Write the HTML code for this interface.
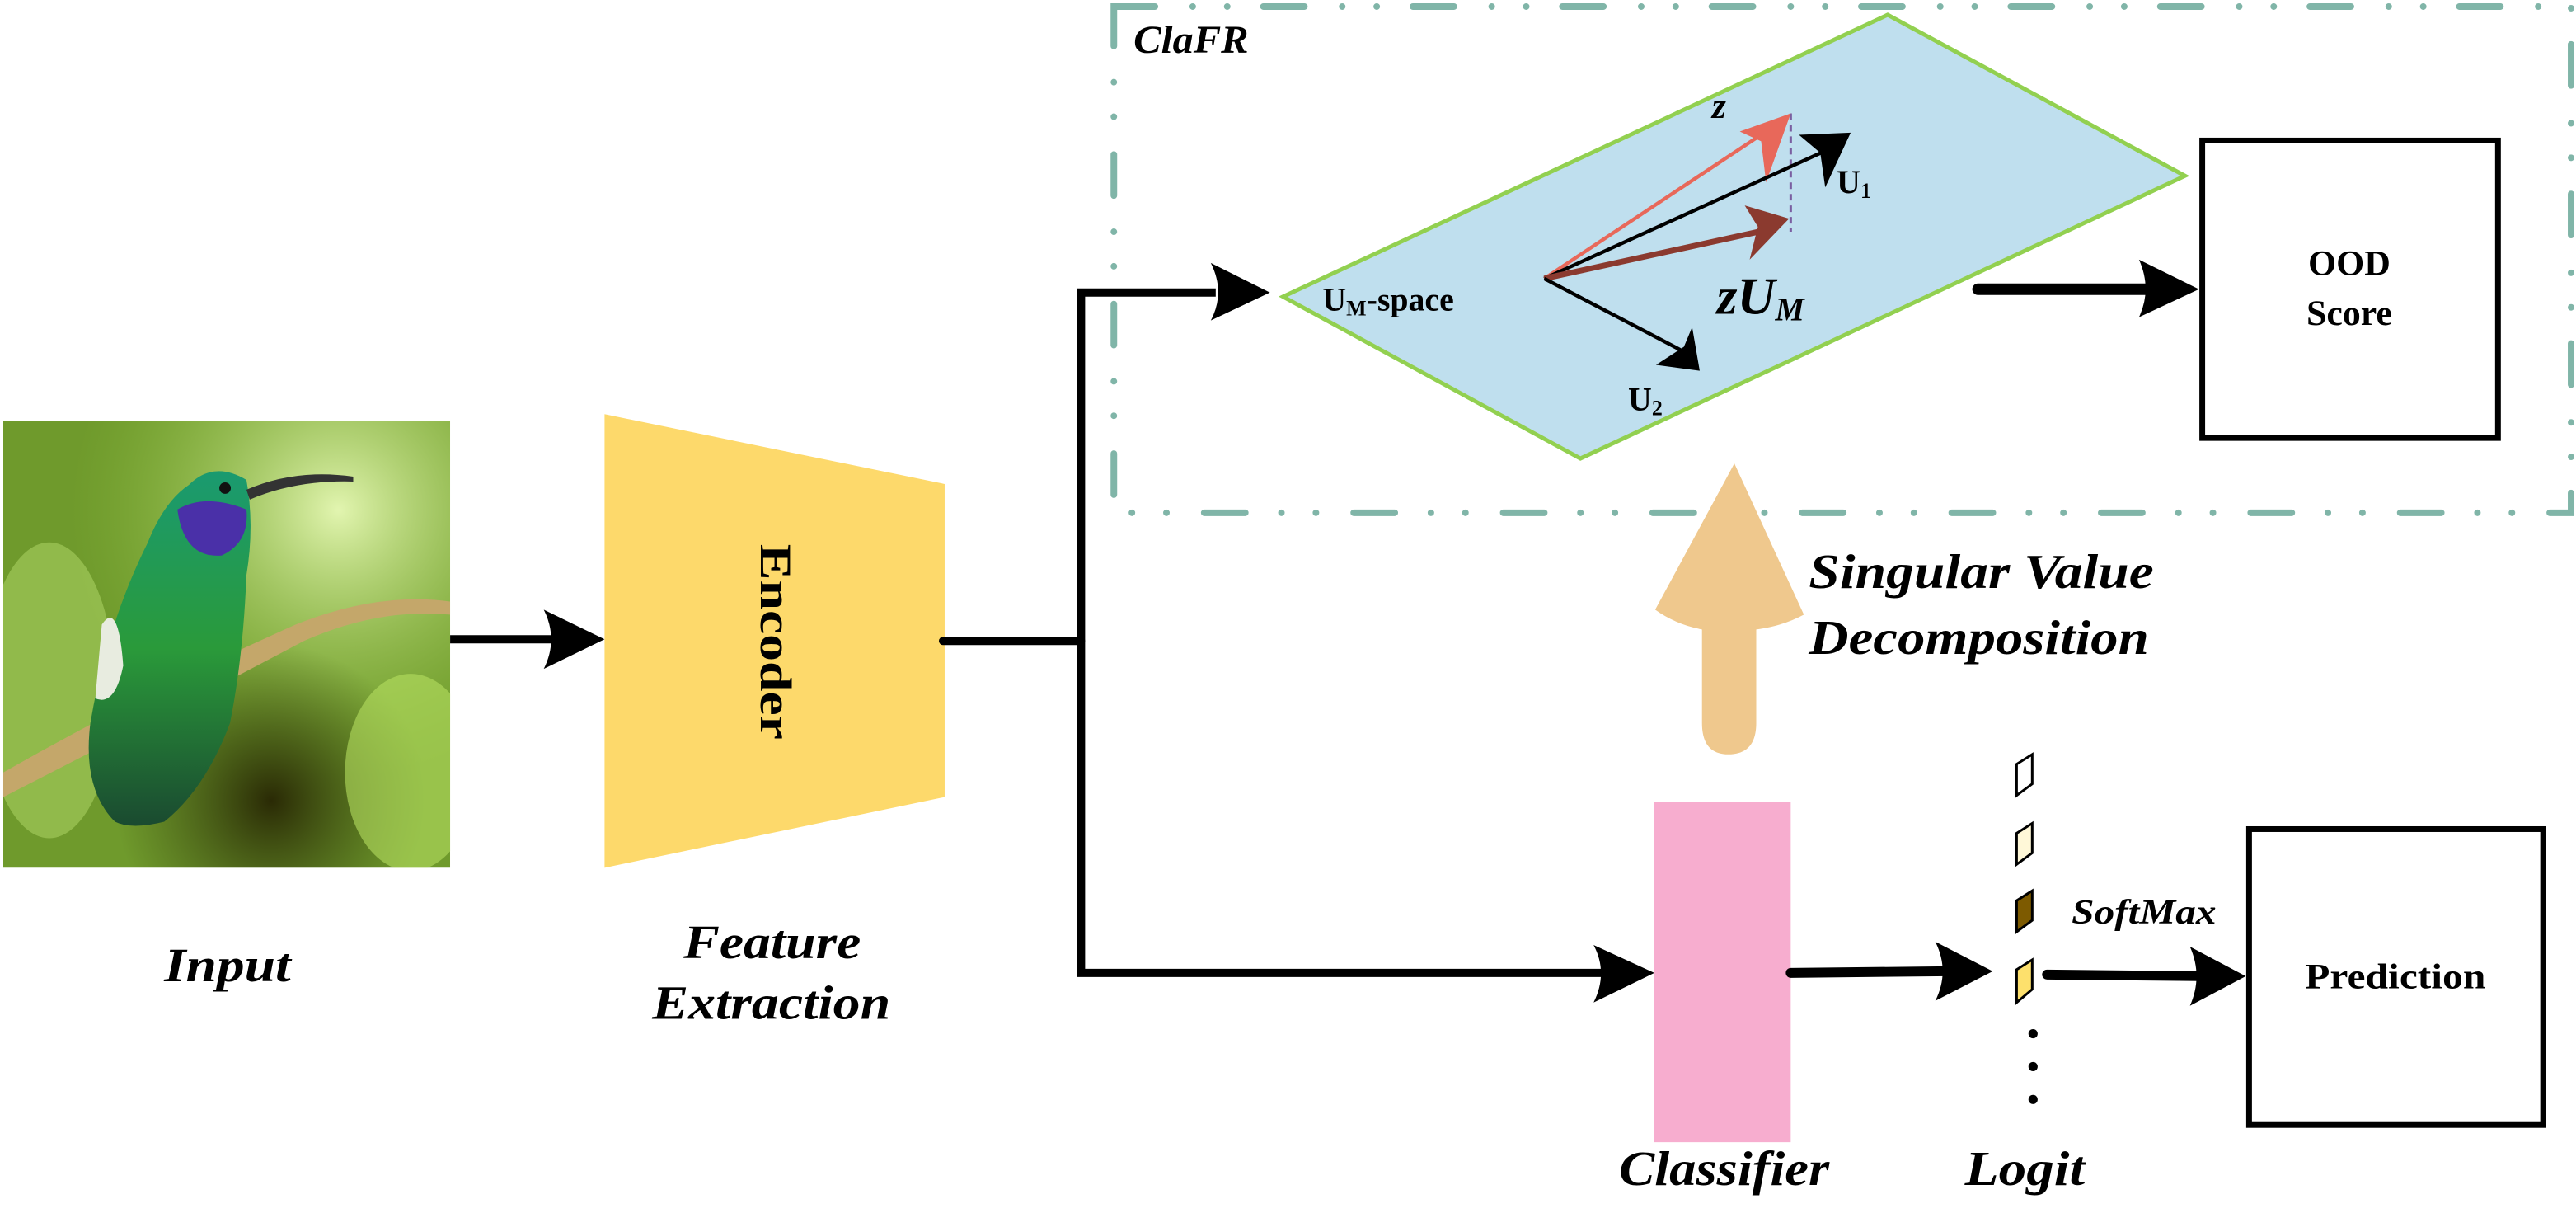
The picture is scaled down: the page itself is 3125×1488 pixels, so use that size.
<!DOCTYPE html>
<html><head><meta charset="utf-8"><style>
html,body{margin:0;padding:0;background:#fff;}
svg{display:block;}
svg text{font-family:"Liberation Serif","Times New Roman",Times,serif;font-weight:bold;}
.i{font-style:italic;}
</style></head><body>
<svg width="3125" height="1488" viewBox="0 0 1568 746.6" xmlns="http://www.w3.org/2000/svg" font-family="Liberation Serif, Times New Roman, serif">
<defs>
<radialGradient id="bg1" cx="0.75" cy="0.2" r="0.6"><stop offset="0" stop-color="#e2f5b0"/><stop offset="1" stop-color="#8cbf3a" stop-opacity="0"/></radialGradient>
<radialGradient id="bg2" cx="0.6" cy="0.85" r="0.35"><stop offset="0" stop-color="#2a2a05"/><stop offset="1" stop-color="#3a4a10" stop-opacity="0"/></radialGradient>
<linearGradient id="bird" x1="0" y1="0" x2="0" y2="1"><stop offset="0" stop-color="#1a9a70"/><stop offset="0.5" stop-color="#2a9a3a"/><stop offset="1" stop-color="#1a4a30"/></linearGradient>
<clipPath id="pc"><rect x="2" y="256" width="272" height="272"/></clipPath>
</defs>
<g clip-path="url(#pc)">
<rect x="2" y="256" width="272" height="272" fill="#6f9a2c"/>
<rect x="2" y="256" width="272" height="272" fill="url(#bg1)"/>
<rect x="2" y="256" width="272" height="272" fill="url(#bg2)"/>
<ellipse cx="30" cy="420" rx="40" ry="90" fill="#a9d060" opacity="0.6"/>
<ellipse cx="250" cy="470" rx="40" ry="60" fill="#b6e060" opacity="0.6"/>
<path d="M2 470 Q90 420 180 380 Q230 360 274 366 L274 374 Q230 370 185 390 Q100 435 2 485 Z" fill="#c4a76a"/>
<path d="M115 295 Q130 280 150 292 Q155 320 150 350 Q148 400 140 440 Q125 480 100 500 Q80 505 70 500 Q50 480 55 440 Q65 380 90 330 Q100 305 115 295 Z" fill="url(#bird)"/>
<path d="M108 310 Q125 300 150 310 Q152 330 135 338 Q112 340 108 310Z" fill="#4a30a8"/>
<path d="M150 298 Q180 285 215 290 L215 293 Q180 292 152 304Z" fill="#333"/>
<circle cx="137" cy="297" r="3.5" fill="#111"/>
<path d="M62 380 Q72 365 75 405 Q70 430 58 425Z" fill="#e8ece0"/>
</g>
<line x1="274" y1="389" x2="340" y2="389" stroke="#000" stroke-width="5"/>
<path d="M331 371 L368 389 L331 407 Q340 389 331 371Z" fill="#000"/>
<polygon points="368,252 575,294.5 575,485 368,528" fill="#fdd96b"/>
<text transform="translate(463,331) rotate(90)" font-size="27" textLength="119" lengthAdjust="spacingAndGlyphs">Encoder</text>
<line x1="574" y1="390" x2="658" y2="390" stroke="#000" stroke-width="5" stroke-linecap="round"/>
<polyline points="740,178 658,178 658,592 975,592" fill="none" stroke="#000" stroke-width="5"/>
<path d="M737 160 L773 178 L737 195 Q746 178 737 160Z" fill="#000"/>
<path d="M970 575 L1007 592 L970 610 Q979 592 970 575Z" fill="#000"/>
<rect x="678" y="4" width="887" height="308" fill="none" stroke="#80b5a8" stroke-width="4" stroke-linecap="round" stroke-dasharray="25 23 0 21 0 22"/>
<text x="690" y="32" class="i" font-size="24" textLength="70" lengthAdjust="spacingAndGlyphs">ClaFR</text>
<polygon points="781,180.5 1149,9 1330,107 962,279" fill="#bfdfee" stroke="#92d050" stroke-width="2.5"/>
<line x1="1090" y1="69" x2="1090" y2="141" stroke="#7a5ea0" stroke-width="1.5" stroke-dasharray="4 3"/>
<line x1="940" y1="169.5" x2="1075" y2="80" stroke="#e8685a" stroke-width="2.2"/>
<polygon points="1090,69 1059,80 1072,86 1075,111" fill="#e8685a"/>
<line x1="940" y1="169.5" x2="1115" y2="90" stroke="#000" stroke-width="2.2"/>
<polygon points="1126.5,80.7 1095,82 1108,93 1111,114" fill="#000"/>
<line x1="940" y1="169.5" x2="1075" y2="140" stroke="#8b3a2f" stroke-width="3.5"/>
<polygon points="1089,133 1062,125 1070,138 1065,158" fill="#8b3a2f"/>
<line x1="940" y1="169.5" x2="1025" y2="214" stroke="#000" stroke-width="2.2"/>
<polygon points="1034.6,225.6 1030,199 1025,211 1008,222" fill="#000"/>
<text x="1042" y="71.7" class="i" font-size="22">z</text>
<text x="1118" y="117.5" font-size="20">U<tspan font-size="13" dy="3">1</tspan></text>
<text x="991" y="249.6" font-size="20">U<tspan font-size="13" dy="3">2</tspan></text>
<text x="1045" y="191" class="i" font-size="32">z<tspan>U</tspan><tspan font-size="20" dy="4">M</tspan></text>
<text x="805" y="189" font-size="20">U<tspan font-size="13" dy="3">M</tspan><tspan dy="-3">-space</tspan></text>
<line x1="1204" y1="176" x2="1310" y2="176" stroke="#000" stroke-width="7" stroke-linecap="round"/>
<path d="M1302 158 L1338.5 176 L1302 193 Q1310 176 1302 158Z" fill="#000"/>
<rect x="1340.5" y="85.5" width="180" height="181" fill="#fff" stroke="#000" stroke-width="3.5"/>
<text x="1430" y="167.4" font-size="22" text-anchor="middle">OOD</text>
<text x="1430" y="197.6" font-size="22" text-anchor="middle">Score</text>
<path d="M1055.7 282 L1098 374 Q1085 381 1069 383 L1069 440 Q1069 459 1052 459 Q1036 459 1036 440 L1036 383 Q1020 380 1007.5 371 Z" fill="#efc88d"/>
<text x="1101" y="357.7" class="i" font-size="30" textLength="210" lengthAdjust="spacingAndGlyphs">Singular Value</text>
<text x="1101" y="398" class="i" font-size="30" textLength="207" lengthAdjust="spacingAndGlyphs">Decomposition</text>
<rect x="1007" y="488" width="83" height="207" fill="#f7adcf"/>
<line x1="1090" y1="592" x2="1185" y2="591" stroke="#000" stroke-width="6" stroke-linecap="round"/>
<path d="M1178 573 L1213 591 L1178 609 Q1187 591 1178 573Z" fill="#000"/>
<g stroke="#000" stroke-width="1.5">
<polygon points="1227.5,465 1237,459 1237,477 1227.5,484" fill="#fff"/>
<polygon points="1227.5,507 1237,501 1237,519 1227.5,526" fill="#fff8d8"/>
<polygon points="1227.5,548 1237,542 1237,560 1227.5,567" fill="#7d5a00"/>
<polygon points="1227.5,590 1237,584 1237,602 1227.5,610" fill="#fde06c"/>
</g>
<circle cx="1237.5" cy="629" r="2.8" fill="#000"/>
<circle cx="1237.5" cy="649" r="2.8" fill="#000"/>
<circle cx="1237.5" cy="669" r="2.8" fill="#000"/>
<line x1="1246" y1="593" x2="1340" y2="594" stroke="#000" stroke-width="6" stroke-linecap="round"/>
<path d="M1333 576 L1367 594 L1333 612 Q1341 594 1333 576Z" fill="#000"/>
<text x="1261" y="562" class="i" font-size="21" textLength="88" lengthAdjust="spacingAndGlyphs">SoftMax</text>
<rect x="1369" y="504.5" width="179" height="180" fill="#fff" stroke="#000" stroke-width="3.5"/>
<text x="1458" y="601.4" font-size="22" text-anchor="middle" textLength="110" lengthAdjust="spacingAndGlyphs">Prediction</text>
<text x="100" y="597" class="i" font-size="29" textLength="77" lengthAdjust="spacingAndGlyphs">Input</text>
<text x="416" y="583" class="i" font-size="29" textLength="108" lengthAdjust="spacingAndGlyphs">Feature</text>
<text x="397" y="620" class="i" font-size="29" textLength="145" lengthAdjust="spacingAndGlyphs">Extraction</text>
<text x="985.5" y="721" class="i" font-size="30" textLength="128" lengthAdjust="spacingAndGlyphs">Classifier</text>
<text x="1196" y="721" class="i" font-size="30" textLength="73" lengthAdjust="spacingAndGlyphs">Logit</text>
</svg>
</body></html>
